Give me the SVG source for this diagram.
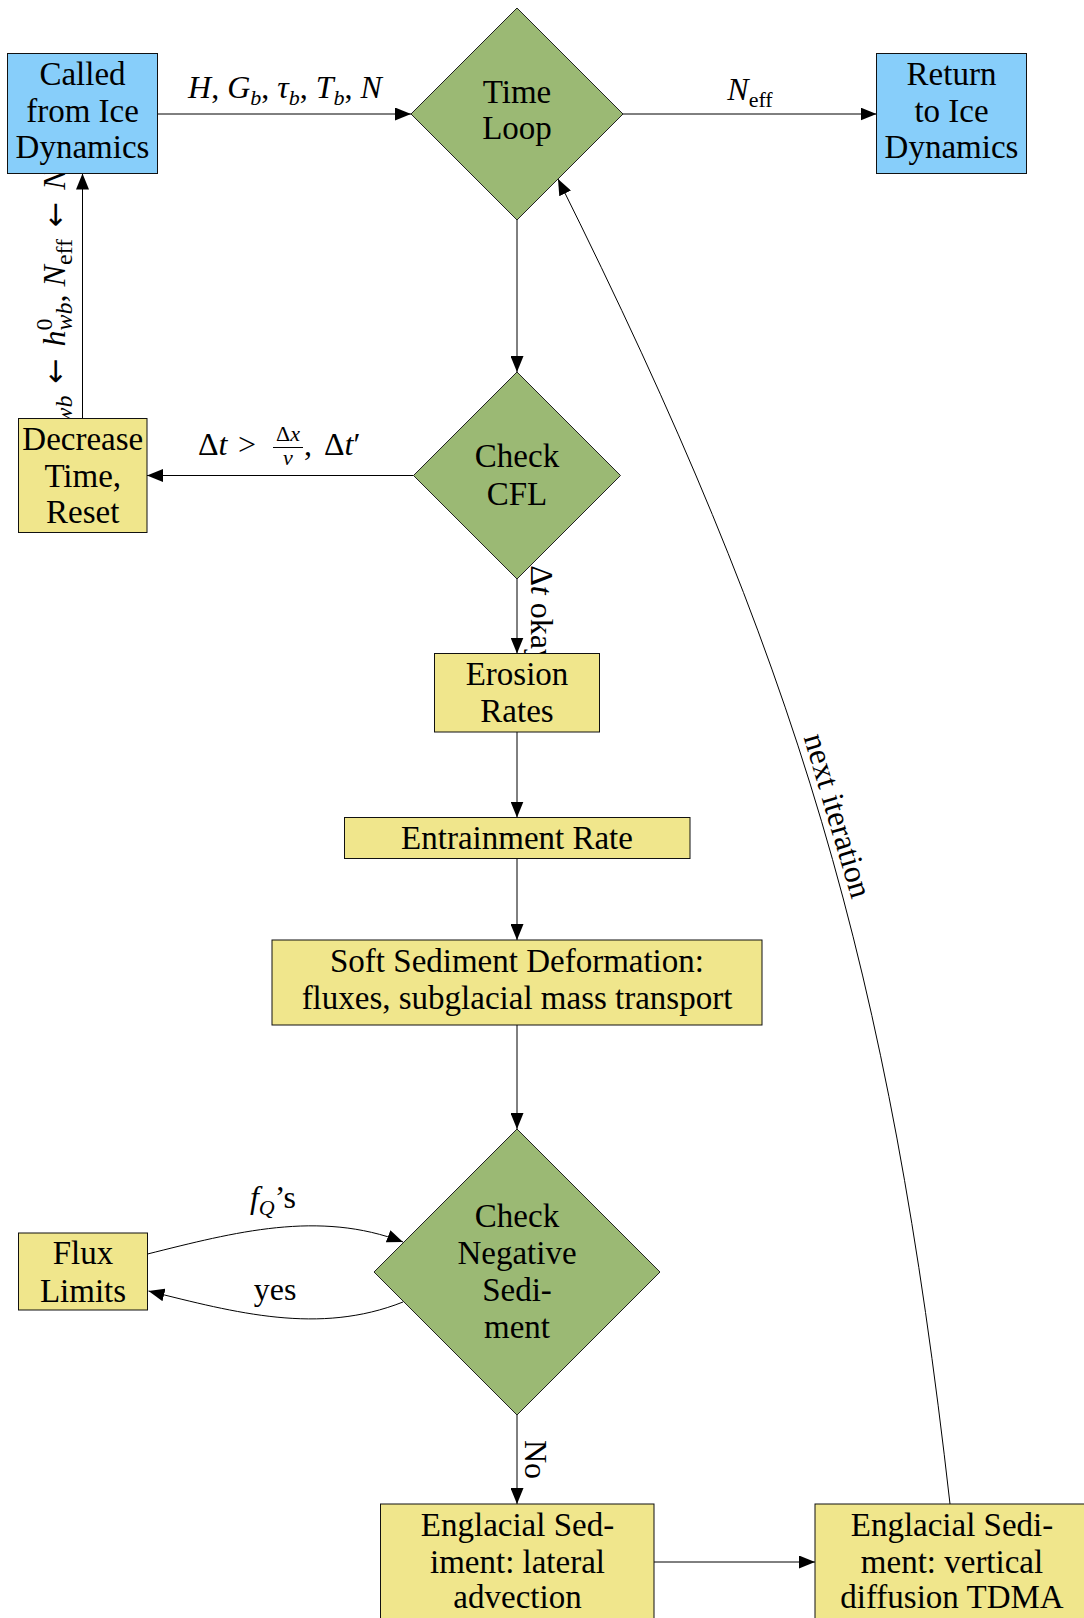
<svg xmlns="http://www.w3.org/2000/svg" width="1084" height="1618" viewBox="0 0 1084 1618">
<style>
text { font-family: "Liberation Serif", "DejaVu Serif", serif; fill: #000; }
.nt { font-size: 33px; text-anchor: middle; }
.lbl { font-size: 32px; }
.mid { text-anchor: middle; }
.it { font-style: italic; }
.sm { font-size: 22px; }
.sm2 { font-size: 24px; }
.ar { font-family: "DejaVu Sans", sans-serif; font-size: 30px; }
.edge { fill: none; stroke: #000; stroke-width: 1; marker-end: url(#arr); }
.blue { fill: #87cefa; stroke: #111; stroke-width: 1; }
.yel { fill: #f0e68c; stroke: #111; stroke-width: 1; }
.grn { fill: #9bb974; stroke: #222; stroke-width: 1; }
</style>
<defs>
<marker id="arr" markerUnits="userSpaceOnUse" markerWidth="16" markerHeight="13" viewBox="0 0 16 13" refX="16" refY="6.5" orient="auto">
<path d="M0,0 L16,6.5 L0,13 Z" fill="#000"/>
</marker>
</defs>

<g id="connectors">
  <g id="e-called-time">
    <path class="edge" d="M157.5,114 H411"/>
    <text class="lbl mid" x="285" y="98"><tspan class="it">H</tspan>, <tspan class="it">G</tspan><tspan class="it sm" dy="7">b</tspan><tspan dy="-7">, </tspan><tspan class="it">τ</tspan><tspan class="it sm" dy="7">b</tspan><tspan dy="-7">, </tspan><tspan class="it">T</tspan><tspan class="it sm" dy="7">b</tspan><tspan dy="-7">, </tspan><tspan class="it">N</tspan></text>
  </g>
  <g id="e-time-return">
    <path class="edge" d="M623,114 H876.5"/>
    <text class="lbl mid" x="750" y="100"><tspan class="it">N</tspan><tspan class="sm" dy="7">eff</tspan></text>
  </g>
  <g id="e-time-cfl">
    <path class="edge" d="M517,220 V372"/>
  </g>
  <g id="e-cfl-decrease">
    <path class="edge" d="M413.5,475.5 H147"/>
    <text class="lbl" x="198" y="455">Δ<tspan class="it">t</tspan></text>
    <text class="lbl" x="238" y="455">&gt;</text>
    <text class="lbl sm mid" x="288" y="441">Δ<tspan class="it">x</tspan></text>
    <line x1="273" y1="447.5" x2="303" y2="447.5" stroke="#000" stroke-width="1"/>
    <text class="lbl sm mid it" x="288" y="465">v</text>
    <text class="lbl" x="304" y="455">,</text>
    <text class="lbl" x="324" y="455">Δ<tspan class="it">t</tspan>′</text>
  </g>
  <g id="e-decrease-called">
    <path class="edge" d="M82.5,418.5 V173.5"/>
    <text class="lbl mid" transform="translate(65,304) rotate(-90)"><tspan class="it">h</tspan><tspan class="it sm2" dy="7">wb</tspan><tspan dy="-7"> </tspan><tspan class="ar" dx="4">←</tspan><tspan dx="4"> </tspan><tspan class="it">h</tspan><tspan class="sm2" dy="-13">0</tspan><tspan class="it sm2" dx="-12" dy="20">wb</tspan><tspan dy="-7">, </tspan><tspan class="it">N</tspan><tspan class="sm2" dy="7">eff</tspan><tspan dy="-7"> </tspan><tspan class="ar" dx="4">←</tspan><tspan dx="4"> </tspan><tspan class="it">N</tspan></text>
  </g>
  <g id="e-cfl-erosion">
    <path class="edge" d="M517,579 V653.5"/>
    <text class="lbl mid" transform="translate(530.5,615) rotate(90)">Δ<tspan class="it">t</tspan> okay</text>
  </g>
  <g id="e-erosion-entrain">
    <path class="edge" d="M517,732 V817.5"/>
  </g>
  <g id="e-entrain-soft">
    <path class="edge" d="M517,858.5 V940"/>
  </g>
  <g id="e-soft-neg">
    <path class="edge" d="M517,1025 V1129"/>
  </g>
  <g id="e-flux-neg">
    <path class="edge" d="M147.5,1254 C234.8,1232.2 319,1209.7 403,1242"/>
    <text class="lbl mid" x="273" y="1208"><tspan class="it">f</tspan><tspan class="it sm" dy="7">Q</tspan><tspan dy="-7">’s</tspan></text>
  </g>
  <g id="e-neg-flux">
    <path class="edge" d="M403,1302 C319,1335.3 236,1312.8 148.5,1291"/>
    <text class="lbl mid" x="275" y="1300">yes</text>
  </g>
  <g id="e-neg-lateral">
    <path class="edge" d="M517,1415 V1504"/>
    <text class="lbl mid" transform="translate(524.5,1459.5) rotate(90)">No</text>
  </g>
  <g id="e-lateral-vertical">
    <path class="edge" d="M654,1562 H815"/>
  </g>
  <g id="e-vertical-time">
    <path class="edge" d="M950,1504 C889,966 799,663 558,179"/>
    <text class="lbl mid" transform="translate(827.7,818.6) rotate(73.5)">next iteration</text>
  </g>
</g>

<g id="node-called">
  <rect class="blue" x="7.5" y="53.5" width="150" height="120"/>
  <text class="nt" x="82.5" y="85">Called</text>
  <text class="nt" x="82.5" y="121.7">from Ice</text>
  <text class="nt" x="82.5" y="158.3">Dynamics</text>
</g>
<g id="node-return">
  <rect class="blue" x="876.5" y="53.5" width="150" height="120"/>
  <text class="nt" x="951.5" y="85">Return</text>
  <text class="nt" x="951.5" y="121.7">to Ice</text>
  <text class="nt" x="951.5" y="158.3">Dynamics</text>
</g>
<g id="node-timeloop">
  <polygon class="grn" points="517,8 623,114 517,220 411,114"/>
  <text class="nt" x="517" y="102.7">Time</text>
  <text class="nt" x="517" y="139.3">Loop</text>
</g>
<g id="node-cfl">
  <polygon class="grn" points="517,372 620.5,475.5 517,579 413.5,475.5"/>
  <text class="nt" x="517" y="467.3">Check</text>
  <text class="nt" x="517" y="505">CFL</text>
</g>
<g id="node-decrease">
  <rect class="yel" x="18.5" y="418.5" width="128.5" height="114"/>
  <text class="nt" x="82.75" y="450">Decrease</text>
  <text class="nt" x="82.75" y="486.7">Time,</text>
  <text class="nt" x="82.75" y="522.7">Reset</text>
</g>
<g id="node-erosion">
  <rect class="yel" x="434.5" y="653.5" width="165" height="78.5"/>
  <text class="nt" x="517" y="685">Erosion</text>
  <text class="nt" x="517" y="721.7">Rates</text>
</g>
<g id="node-entrainment">
  <rect class="yel" x="344.5" y="817.5" width="345.5" height="41"/>
  <text class="nt" x="517" y="849.3">Entrainment Rate</text>
</g>
<g id="node-soft">
  <rect class="yel" x="272" y="940" width="490" height="85"/>
  <text class="nt" x="517" y="972.3">Soft Sediment Deformation:</text>
  <text class="nt" x="517" y="1009">fluxes, subglacial mass transport</text>
</g>
<g id="node-negative">
  <polygon class="grn" points="517,1129 660,1272 517,1415 374,1272"/>
  <text class="nt" x="517" y="1227.3">Check</text>
  <text class="nt" x="517" y="1264">Negative</text>
  <text class="nt" x="517" y="1301">Sedi-</text>
  <text class="nt" x="517" y="1338">ment</text>
</g>
<g id="node-flux">
  <rect class="yel" x="18.5" y="1233" width="129" height="77"/>
  <text class="nt" x="83" y="1264">Flux</text>
  <text class="nt" x="83" y="1301.7">Limits</text>
</g>
<g id="node-lateral">
  <rect class="yel" x="380.5" y="1504" width="273.5" height="116"/>
  <text class="nt" x="517.5" y="1536">Englacial Sed-</text>
  <text class="nt" x="517.5" y="1572.7">iment: lateral</text>
  <text class="nt" x="517.5" y="1608.3">advection</text>
</g>
<g id="node-vertical">
  <rect class="yel" x="815" y="1504" width="273" height="116"/>
  <text class="nt" x="952" y="1536">Englacial Sedi-</text>
  <text class="nt" x="952" y="1572.7">ment: vertical</text>
  <text class="nt" x="952" y="1608.3">diffusion TDMA</text>
</g>
</svg>
